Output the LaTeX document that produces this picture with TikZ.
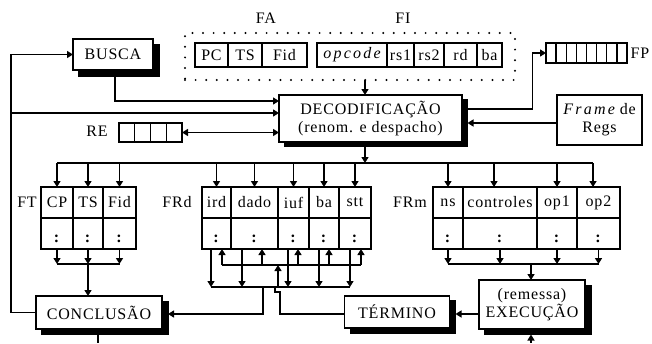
\documentclass[tikz,border=0pt]{standalone}
\usepackage{fontspec}
\setmainfont{Liberation Serif}[LetterSpace=5]
\usetikzlibrary{arrows.meta,calc}
\begin{document}
\begin{tikzpicture}[x=1pt,y=-1pt,
  every node/.style={font=\fontsize{16}{18}\selectfont, inner sep=0pt, outer sep=0pt},
  box/.style={draw, line width=1.4pt, fill=white, align=center},
  shbox/.style={box},
  shadownode/.style={fill=black, draw=black, line width=1.4pt},
  cell/.style={draw, line width=1.3pt, minimum height=31pt},
  fld/.style={draw, line width=1.3pt, minimum height=24pt},
  ln/.style={line width=1.4pt},
  arr/.style={ln, -{Triangle[length=6pt,width=7pt]}},
  darr/.style={ln, {Triangle[length=6pt,width=7pt]}-{Triangle[length=6pt,width=7pt]}},
  dotbox/.style={draw, line width=2.2pt, line cap=round, dash pattern=on 0pt off 10.6pt},
]
\useasboundingbox (0,0) rectangle (652,343);

% ---- shadows (drawn first, behind the boxes) ----
\node[shadownode, minimum width=80pt, minimum height=31pt] (buscash) at (119,60.5) {};
\node[shadownode, minimum width=183pt, minimum height=47pt] (decsh0) at (376,123) {};
\node[shadownode, minimum width=126pt, minimum height=33pt] (concsh) at (105,318) {};
\node[shadownode, minimum width=105pt, minimum height=32pt] (termsh0) at (403,317) {};
\node[shadownode, minimum width=106pt, minimum height=49pt] (execsh) at (538,310) {};

% ---- top area ----
\node[shbox, minimum width=80pt, minimum height=31pt] (busca) at (113,54.5) {BUSCA};
\node[dotbox, minimum width=330pt, minimum height=47pt] (fbox) at (350,56.5) {};
\node (fa) at (266,18) {FA};
\node (fi) at (403,18) {FI};

\node[fld, minimum width=33pt] (pc) at (211.5,55) {PC};
\node[fld, minimum width=34pt] (fats) at (245,55) {TS};
\node[fld, minimum width=45pt] (fafid) at (284.5,55) {Fid};

\node[fld, minimum width=70pt] (opc) at (352,55) {{\itshape\addfontfeature{LetterSpace=14}opcode}};
\node[fld, minimum width=27pt] (rs1) at (400.5,55) {rs1};
\node[fld, minimum width=30pt] (rs2) at (429,55) {rs2};
\node[fld, minimum width=33pt] (rd) at (460.5,55) {rd};
\node[fld, minimum width=25pt] (fiba) at (489.5,55) {ba};

\node[draw, line width=1.3pt, minimum width=81pt, minimum height=20pt] (fp) at (586.5,53) {};
\foreach \i in {1,...,7}
  \draw[ln] ($(fp.north west)!\i/8!(fp.north east)$) -- ($(fp.south west)!\i/8!(fp.south east)$);
\node (fpl) at (640,53) {FP};

\node[shbox, minimum width=183pt, minimum height=47pt] (dec) at (370.5,118.5)
  {DECODIFICAÇÃO\\(renom. e despacho)};
\node[box, minimum width=85pt, minimum height=50pt] (frame) at (599.5,120)
  {{\itshape\addfontfeature{LetterSpace=14}Frame} de\\Regs};

\node[draw, line width=1.3pt, minimum width=63pt, minimum height=19pt] (re) at (150.5,132.5) {};
\foreach \i in {1,2,3}
  \draw[ln] ($(re.north west)!\i/4!(re.north east)$) -- ($(re.south west)!\i/4!(re.south east)$);
\node (rel) at (97,131) {RE};

% ---- tables ----
\node (ftl) at (27,202) {FT};
\node (frdl) at (177,202) {FRd};
\node (frml) at (410,202) {FRm};

\foreach \n/\x/\w/\t in {cp/57/32/CP, ts/88/30/TS, fid/119.5/33/Fid,
    ird/216.5/29/ird, dado/254.5/47/dado, iuf/293.5/31/iuf, ba/324/30/ba, stt/355/32/stt,
    ns/448/30/ns, ctl/500/74/controles, op1/557/40/op1, op2/598.5/43/op2} {
  \node[cell, minimum width=\w pt] (\n) at (\x,202.5) {\t};
  \node[cell, minimum width=\w pt] (d\n) at (\x,233.5) {};
  \node (c\n) at (\x,239) {\textbf{:}};
}

% ---- bottom boxes ----
\node[shbox, minimum width=126pt, minimum height=33pt] (conc) at (99,312.5) {CONCLUSÃO};
\node[shbox, minimum width=105pt, minimum height=32pt] (term) at (397,312) {TÉRMINO};
\node[shbox, minimum width=106pt, minimum height=49pt] (exec) at (532,304.5) {(remessa)\\EXECUÇÃO};

% ---- connectors top ----
\coordinate (ll) at (11,113);
\draw[arr] (conc.west) -| (ll) |- (busca.west);
\draw[arr] (ll) -- (ll -| dec.west);
\coordinate (bd) at ($(dec.west)+(0,-17.5)$);
\draw[arr] ($(busca.south)+(2,6)$) |- (bd);
\draw[darr] (re.east) -- (re.east -| dec.west);
\draw[arr] ($(fbox.south)+(15,0)$) -- ($(dec.north)+(-5.5,0)$);
\coordinate (dfp) at ($(decsh0.east)+(0,-14)$);
\draw[arr] (dfp) -- ++(65,0) |- (fp.west);
\coordinate (fw) at ($(frame.west)+(0,3)$);
\draw[arr] (fw) -- (fw -| decsh0.east);

% ---- distribution bus ----
\coordinate (bus) at (365,163);
\draw[arr] (decsh0.south -| bus) -- (bus);
\coordinate (ctla) at ($(ctl.north)+(-6,0)$);
\coordinate (op2a) at ($(op2.north)+(-5.5,0)$);
\draw[ln] (cp.north |- bus) -- (op2a |- bus);
\foreach \n in {cp,ts,fid,ird,dado,iuf,ba,stt,ns,op1}
  \draw[arr] (\n.north |- bus) -- (\n.north);
\draw[arr] (ctla |- bus) -- (ctla);
\draw[arr] (op2a |- bus) -- (op2a);

% ---- FT to CONCLUSAO ----
\coordinate (ftb) at (88,264);
\foreach \n in {cp,ts,fid}
  \draw[arr] (d\n.south) -- (d\n.south |- ftb);
\draw[ln] (dcp.south |- ftb) -- (dfid.south |- ftb);
\draw[arr] (dts.south |- ftb) -- (dts.south |- conc.north);

% ---- FRd buses ----
\foreach \n/\a/\b in {ird/-5.5/5.5, dado/-12.5/7.5, iuf/-5.5/4.5, ba/-5/5, stt/-5/6} {
  \draw[arr] ($(d\n.south)+(\a,0)$) -- ($(d\n.south)+(\a,38)$);
  \draw[arr] ($(d\n.south)+(\b,16)$) -- ($(d\n.south)+(\b,0)$);
}
\draw[ln] ($(dird.south)+(-5.5,38)$) -- ($(dstt.south)+(-5,38)$);
\draw[ln] ($(dird.south)+(5.5,16)$) -- ($(dstt.south)+(6,16)$);
\coordinate (lb) at (263,287);
\coordinate (ubus) at (278,265);
\coordinate (ce) at ($(concsh.east)+(0,-4)$);
\draw[arr] (lb) |- (ce);
\coordinate (tw) at ($(term.west)+(0,2)$);
\coordinate (tj1) at (280,292);
\coordinate (tj2) at (275,292);
\coordinate (tj3) at (275,287);
\coordinate (tj4) at (278,287);
\draw[ln] (tw) -| (tj1) -- (tj2) -- (tj3);
\draw[arr] (tj4) -- (ubus);

% ---- FRm to EXECUCAO ----
\coordinate (fmb) at (531,264);
\foreach \n in {ns,ctl,op1,op2}
  \draw[arr] (d\n.south) -- (d\n.south |- fmb);
\draw[ln] (dns.south |- fmb) -- (dop2.south |- fmb);
\draw[arr] (fmb) -- (fmb |- exec.north);
\coordinate (et) at ($(exec.west)+(0,9.5)$);
\draw[arr] (et) -- (et -| termsh0.east);

% ---- cut-off lines at the bottom ----
\coordinate (cbot) at (98,343);
\draw[ln] (concsh.south -| cbot) -- (cbot);
\coordinate (ebot) at (531,343);
\draw[arr] (ebot) -- (ebot |- execsh.south);
\end{tikzpicture}
\end{document}
